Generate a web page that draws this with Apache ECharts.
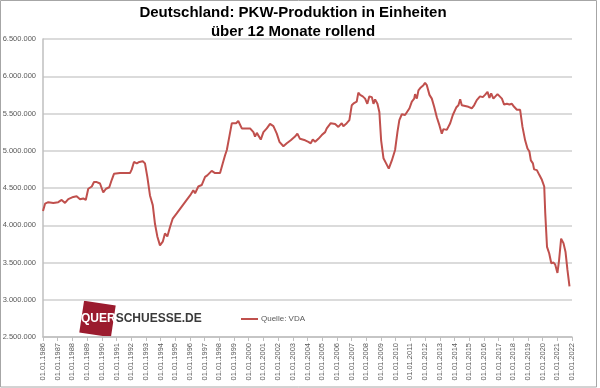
<!DOCTYPE html>
<html>
<head>
<meta charset="utf-8">
<script src="https://cdn.jsdelivr.net/npm/echarts@6/dist/echarts.min.js"></script>
<style>
html,body{margin:0;padding:0;background:#fff;}
#chart{width:600px;height:388px;}
</style>
</head>
<body>
<div id="chart"></div>
<script>
// Time positions (decimal years)
const years = [
 1986.00,1986.14,1986.36,1986.70,1987.04,1987.27,1987.50,1987.72,1988.06,1988.29,
 1988.52,1988.74,1988.91,1989.08,1989.32,1989.47,1989.66,1989.88,1990.10,1990.29,
 1990.51,1990.68,1990.83,1991.24,1991.92,1992.04,1992.19,1992.38,1992.56,1992.79,
 1992.94,1993.10,1993.28,1993.47,1993.62,1993.78,1993.96,1994.15,1994.30,1994.46,
 1994.65,1994.83,1995.10,1995.44,1995.78,1996.01,1996.23,1996.35,1996.57,1996.80,
 1997.03,1997.18,1997.30,1997.48,1997.71,1998.05,1998.23,1998.39,1998.51,1998.68,
 1998.85,1999.00,1999.14,1999.29,1999.41,1999.53,1999.75,2000.09,2000.32,2000.43,
 2000.55,2000.82,2001.00,2001.23,2001.45,2001.68,2001.91,2002.09,2002.36,2002.59,
 2002.86,2003.15,2003.31,2003.49,2003.84,2004.06,2004.22,2004.36,2004.52,2004.74,
 2004.97,2005.20,2005.31,2005.42,2005.58,2005.88,2006.10,2006.33,2006.44,2006.67,
 2006.85,2007.01,2007.17,2007.35,2007.46,2007.58,2007.76,2007.92,2008.07,2008.21,
 2008.38,2008.49,2008.60,2008.76,2008.89,2009.01,2009.17,2009.35,2009.53,2009.74,
 2009.96,2010.12,2010.25,2010.42,2010.64,2010.76,2010.94,2011.10,2011.26,2011.32,
 2011.44,2011.55,2011.71,2011.89,2012.00,2012.12,2012.30,2012.46,2012.62,2012.80,
 2012.98,2013.14,2013.25,2013.48,2013.71,2013.89,2014.12,2014.27,2014.39,2014.50,
 2014.73,2014.95,2015.18,2015.34,2015.52,2015.74,2015.93,2016.08,2016.25,2016.38,
 2016.50,2016.65,2016.77,2016.93,2017.06,2017.23,2017.38,2017.57,2017.74,2017.91,
 2018.06,2018.25,2018.47,2018.63,2018.81,2018.97,2019.10,2019.20,2019.34,2019.42,
 2019.61,2019.79,2019.95,2020.11,2020.18,2020.30,2020.45,2020.59,2020.74,2020.86,
 2021.01,2021.12,2021.26,2021.42,2021.56,2021.69,2021.83
];
// PKW production, 12 months rolling (units)
const production = [
 4190000,4290000,4310000,4300000,4310000,4340000,4300000,4350000,4380000,4390000,
 4350000,4360000,4340000,4490000,4520000,4580000,4580000,4560000,4440000,4490000,
 4510000,4610000,4690000,4700000,4700000,4750000,4850000,4830000,4850000,4860000,
 4830000,4650000,4400000,4270000,4020000,3850000,3730000,3780000,3890000,3850000,
 3980000,4090000,4160000,4250000,4340000,4400000,4470000,4430000,4520000,4540000,
 4650000,4670000,4650000,4730000,4700000,4700000,4830000,4940000,5010000,5190000,
 5370000,5370000,5370000,5400000,5390000,5300000,5300000,5300000,5250000,5190000,
 5240000,5150000,5250000,5300000,5360000,5330000,5230000,5120000,5060000,5100000,
 5140000,5190000,5230000,5160000,5140000,5120000,5100000,5150000,5120000,5160000,
 5210000,5250000,5300000,5290000,5370000,5360000,5320000,5370000,5330000,5370000,
 5410000,5610000,5640000,5660000,5780000,5750000,5730000,5700000,5630000,5730000,
 5720000,5630000,5690000,5630000,5520000,5140000,4900000,4830000,4760000,4870000,
 5010000,5250000,5410000,5490000,5480000,5460000,5570000,5660000,5700000,5760000,
 5700000,5810000,5850000,5880000,5910000,5880000,5750000,5700000,5590000,5450000,
 5340000,5230000,5290000,5280000,5370000,5480000,5580000,5610000,5690000,5610000,
 5600000,5590000,5570000,5610000,5680000,5730000,5720000,5750000,5790000,5710000,
 5770000,5700000,5720000,5760000,5770000,5700000,5620000,5630000,5620000,5630000,
 5590000,5550000,5550000,5320000,5140000,5030000,4990000,4870000,4830000,4750000,
 4740000,4670000,4610000,4520000,4160000,3710000,3620000,3490000,3500000,3470000,
 3360000,3530000,3820000,3760000,3640000,3400000,3180000
];
const xMin = 1986, xMax = 2022;
const yTicks = [2500000, 3000000, 3500000, 4000000, 4500000, 5000000, 5500000, 6000000, 6500000];
const seriesName = 'Quelle: VDA';
const titleLines = ['Deutschland: PKW-Produktion in Einheiten', 'über 12 Monate rollend'];

function fmtDots(v) {
  return String(Math.round(v)).replace(/\B(?=(\d{3})+(?!\d))/g, '.');
}

const chart = echarts.init(document.getElementById('chart'), null, {renderer: 'canvas'});
const font = 'Liberation Sans, Arial, sans-serif';
chart.setOption({
  animation: false,
  backgroundColor: '#ffffff',
  title: {
    text: titleLines.join('\n'),
    left: 288,
    top: -2,
    textAlign: 'center',
    textStyle: {fontFamily: font, fontSize: 15, fontWeight: 'bold', color: '#000', lineHeight: 19}
  },
  grid: {left: 43, right: 28, top: 39, bottom: 51, containLabel: false, outerBoundsMode: 'none'},
  xAxis: {
    type: 'value',
    min: xMin, max: xMax, interval: 1,
    axisLine: {show: true, lineStyle: {color: '#bfbfbf', width: 1.5}},
    axisTick: {show: true, length: 4, lineStyle: {color: '#bfbfbf'}},
    splitLine: {show: false},
    axisLabel: {
      rotate: 90, margin: 6, fontSize: 7.5, fontFamily: font, color: '#595959',
      formatter: v => '01.01.' + v
    }
  },
  yAxis: {
    type: 'value',
    min: yTicks[0], max: yTicks[yTicks.length - 1], interval: 500000,
    axisLine: {show: true, lineStyle: {color: '#bfbfbf', width: 1.5}},
    axisTick: {show: false},
    splitLine: {show: true, lineStyle: {color: '#cfcfcf', width: 1.5}},
    axisLabel: {margin: 7, fontSize: 7.5, fontFamily: font, color: '#595959', formatter: fmtDots}
  },
  legend: {
    data: [seriesName],
    left: 241, top: 315, padding: 0,
    icon: 'rect', itemWidth: 17, itemHeight: 2, itemGap: 0,
    textStyle: {fontSize: 8, fontFamily: font, color: '#595959', padding: [0, 0, 0, -2]}
  },
  series: [{
    name: seriesName,
    type: 'line',
    data: years.map((y, i) => [y, production[i]]),
    showSymbol: false,
    symbol: 'none',
    lineStyle: {color: '#c0504d', width: 2},
    itemStyle: {color: '#c0504d'}
  }],
  graphic: [
    {type: 'rect', shape: {x: 0.5, y: 0.5, width: 596, height: 386.5}, style: {fill: 'none', stroke: '#a6a6a6', lineWidth: 1}, silent: true},
    {type: 'rect', x: 97.5, y: 319, rotation: -0.15, shape: {x: -16, y: -16, width: 32, height: 32}, style: {fill: '#9b1b2e'}, silent: true},
    {type: 'text', x: 81, y: 319, silent: true,
      style: {text: '{a|QUER}{b|SCHUESSE.DE}', verticalAlign: 'middle', align: 'left',
        rich: {
          a: {fill: '#ffffff', fontSize: 12, fontWeight: 'bold', fontFamily: font},
          b: {fill: '#3a3a3a', fontSize: 12, fontWeight: 'bold', fontFamily: font}
        }}}
  ]
});
</script>
</body>
</html>
